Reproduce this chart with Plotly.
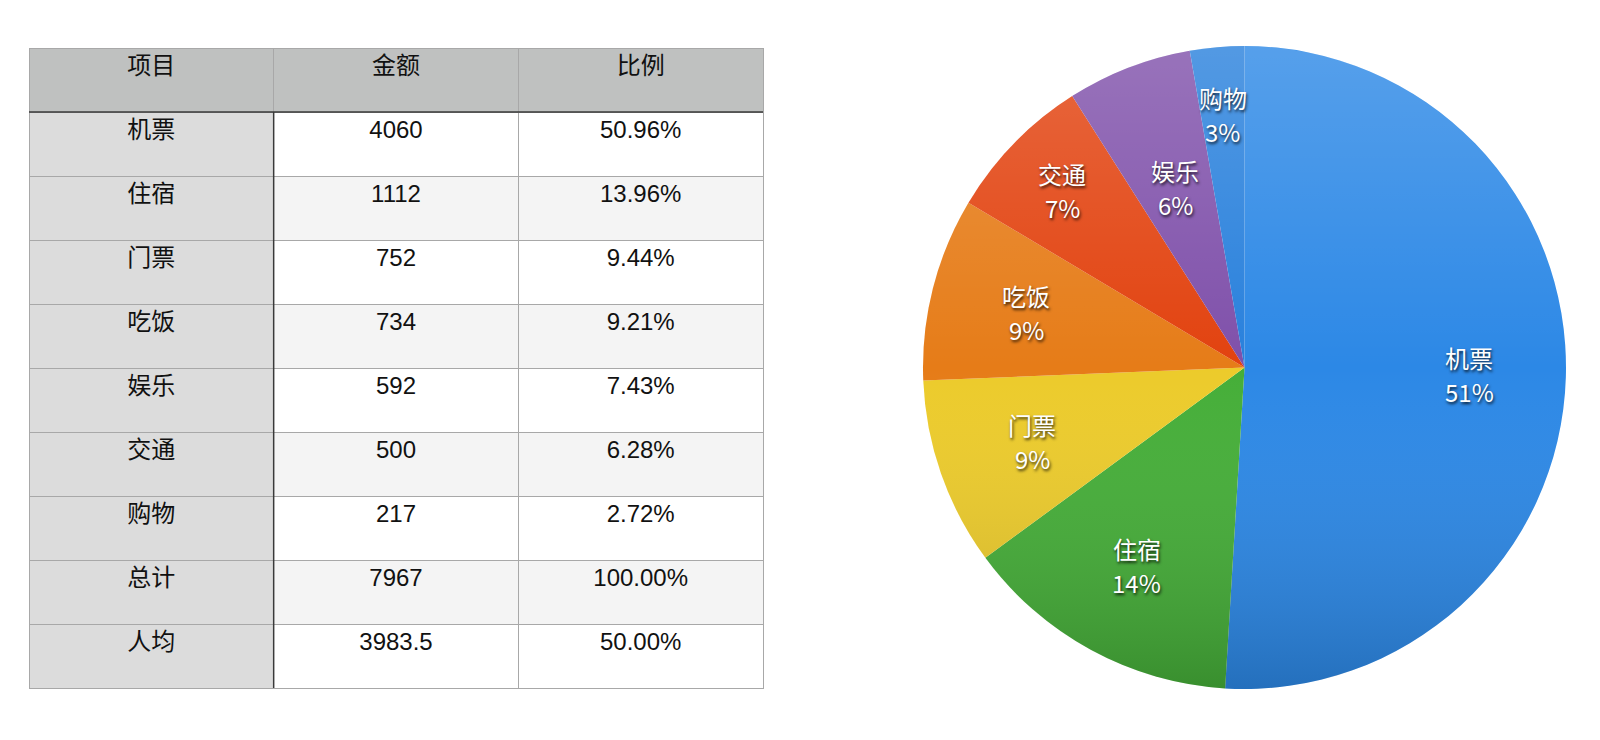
import math
import base64
import plotly.graph_objects as go

# Table data
header = ["项目", "金额", "比例"]
items = ["机票", "住宿", "门票", "吃饭", "娱乐", "交通", "购物", "总计", "人均"]
amounts = ["4060", "1112", "752", "734", "592", "500", "217", "7967", "3983.5"]
ratios = ["50.96%", "13.96%", "9.44%", "9.21%", "7.43%", "6.28%", "2.72%", "100.00%", "50.00%"]

# Pie data (as drawn in the pie)
pie_labels = ["机票", "住宿", "门票", "吃饭", "交通", "娱乐", "购物"]
pie_values = [4060, 1112, 752, 734, 592, 500, 217]
pie_colors = ["#2c88e6", "#45ae38", "#eccb2b", "#e67c18", "#e2420f", "#7f50aa", "#2880dc"]

# label placement (fraction of radius) per slice, a style choice
label_radius = [0.70, 0.70, 0.70, 0.70, 0.79, 0.60, 0.79]

W, H = 1600, 740
ROW_H = 64
TX0, TX1, TY0 = 29, 763, 48
TY1 = TY0 + ROW_H * (len(items) + 1)

row_fill = ["#ffffff" if i % 2 == 0 else "#f4f4f4" for i in range(len(items))]
first_fill = ["#dcdcdc"] * len(items)

fig = go.Figure()

tfont = dict(family="Liberation Sans, Noto Sans CJK SC", size=24, color="#111111")
fig.add_trace(go.Table(
    domain=dict(x=[TX0/W, TX1/W], y=[1 - (TY1 + 4)/H, 1 - TY0/H]),
    columnwidth=[1, 1, 1],
    header=dict(
        values=header,
        fill_color="#bfc1c0",
        line=dict(color="#a8a8a8", width=1),
        align="center",
        height=ROW_H,
        font=tfont,
    ),
    cells=dict(
        values=[items, amounts, ratios],
        fill_color=[first_fill, row_fill, row_fill],
        line=dict(color="#a8a8a8", width=1),
        align="center",
        height=ROW_H,
        font=tfont,
    ),
))

# darker separators: below header and right of the first column
col_w = (TX1 - TX0) / 3
fig.add_shape(type="line", xref="paper", yref="paper",
              x0=TX0/W, x1=TX1/W, y0=1 - (TY0 + ROW_H)/H, y1=1 - (TY0 + ROW_H)/H,
              line=dict(color="#3a3a3a", width=1.5))
fig.add_shape(type="line", xref="paper", yref="paper",
              x0=(TX0 + col_w)/W, x1=(TX0 + col_w)/W, y0=1 - (TY0 + ROW_H)/H, y1=1 - TY1/H,
              line=dict(color="#3a3a3a", width=1.5))

# pie domain in pixels
px0, px1, py0, py1 = 921, 1568, 46, 689
fig.add_trace(go.Pie(
    labels=pie_labels,
    values=pie_values,
    sort=False,
    direction="clockwise",
    rotation=0,
    marker=dict(colors=pie_colors, line=dict(width=0)),
    textinfo="none",
    domain=dict(x=[px0/W, px1/W], y=[1 - py1/H, 1 - py0/H]),
    showlegend=False,
    hoverinfo="label+value+percent",
))

cx = (px0 + px1) / 2
cy = (py0 + py1) / 2
R = min(px1 - px0, py1 - py0) / 2

# gradient shading overlay on the pie
svg = (
    "<svg xmlns='http://www.w3.org/2000/svg' width='200' height='200' viewBox='0 0 200 200'>"
    "<defs><linearGradient id='g' x1='0' y1='0' x2='0' y2='1'>"
    "<stop offset='0' stop-color='#ffffff' stop-opacity='0.20'/>"
    "<stop offset='0.5' stop-color='#ffffff' stop-opacity='0'/>"
    "<stop offset='1' stop-color='#000000' stop-opacity='0.18'/>"
    "</linearGradient></defs>"
    "<circle cx='100' cy='100' r='100' fill='url(#g)'/></svg>"
)
src = "data:image/svg+xml;base64," + base64.b64encode(svg.encode()).decode()
fig.add_layout_image(
    source=src, xref="paper", yref="paper",
    x=(cx - R)/W, y=1 - (cy - R)/H, sizex=2*R/W, sizey=2*R/H,
    xanchor="left", yanchor="top", sizing="stretch", layer="above",
)

lfont = dict(family="Noto Sans CJK SC, Liberation Sans", size=24, color="white",
             shadow="1px 2px 3px rgba(0,0,0,0.8)")
total = sum(pie_values)
cum = 0
for lab, v, f in zip(pie_labels, pie_values, label_radius):
    mid = (cum + v / 2) / total * 2 * math.pi
    cum += v
    x = cx + R * f * math.sin(mid)
    y = cy - R * f * math.cos(mid)
    pct = round(v / total * 100)
    fig.add_annotation(
        x=x / W, y=1 - y / H, xref="paper", yref="paper",
        text=lab, showarrow=False, yshift=17,
        xanchor="center", yanchor="middle", font=lfont,
    )
    fig.add_annotation(
        x=x / W, y=1 - y / H, xref="paper", yref="paper",
        text=f"{pct}%", showarrow=False, yshift=-17,
        xanchor="center", yanchor="middle", font=lfont,
    )

fig.update_layout(
    width=W, height=H,
    margin=dict(l=0, r=0, t=0, b=0),
    paper_bgcolor="white",
    plot_bgcolor="white",
    showlegend=False,
)

fig.write_html("out.html")
